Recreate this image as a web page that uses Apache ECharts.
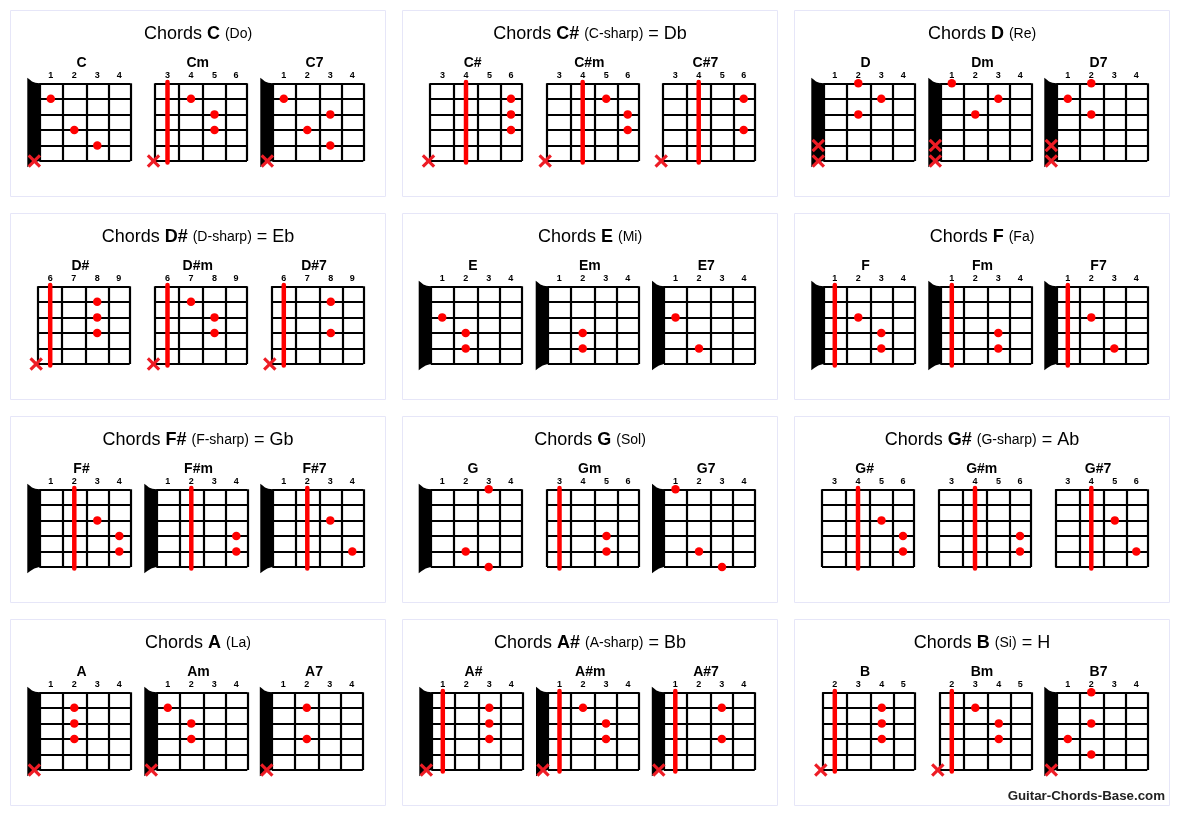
<!DOCTYPE html>
<html><head><meta charset="utf-8">
<style>html,body{margin:0;padding:0;background:#fff}#c{width:1180px;height:816px}</style>
<script src="https://cdn.jsdelivr.net/npm/echarts@6/dist/echarts.min.js"></script>
</head><body><div id="c"></div>
<script>
// ---- content ----
const panelKeys  = ['C','C#','D','D#','E','F','F#','G','G#','A','A#','B'];
const panelNotes = ['(Do)','(C-sharp)','(Re)','(D-sharp)','(Mi)','(Fa)','(F-sharp)','(Sol)','(G-sharp)','(La)','(A-sharp)','(Si)'];
const panelEquals= ['','= Db','','= Eb','','','= Gb','','= Ab','','= Bb','= H'];
const chordNames = ['C','Cm','C7','C#','C#m','C#7','D','Dm','D7','D#','D#m','D#7','E','Em','E7','F','Fm','F7','F#','F#m','F#7','G','Gm','G7','G#','G#m','G#7','A','Am','A7','A#','A#m','A#7','B','Bm','B7'];
// first fret printed above each diagram
const firstFret  = [1,3,1,3,3,3,1,1,1,6,6,6,1,1,1,1,1,1,1,1,1,1,3,1,3,3,3,1,1,1,1,1,1,2,2,1];
// 1 = diagram shows the black nut
const hasNut     = [1,0,1,0,0,0,1,1,1,0,0,0,1,1,1,1,1,1,1,1,1,1,0,1,0,0,0,1,1,1,1,1,1,0,0,1];
// column of the barre, -1 = none
const barreCol   = [-1,0,-1,1,1,1,-1,-1,-1,0,0,0,-1,-1,-1,0,0,0,1,1,1,-1,0,-1,1,1,1,-1,-1,-1,0,0,0,0,0,-1];
// finger dots as [column, string]
const chordDots  = [
  [[0,1],[1,3],[2,4]], [[1,1],[2,2],[2,3]], [[0,1],[2,2],[1,3],[2,4]],
  [[3,1],[3,2],[3,3]], [[2,1],[3,2],[3,3]], [[3,1],[3,3]],
  [[1,0],[2,1],[1,2]], [[0,0],[2,1],[1,2]], [[1,0],[0,1],[1,2]],
  [[2,1],[2,2],[2,3]], [[1,1],[2,2],[2,3]], [[2,1],[2,3]],
  [[0,2],[1,3],[1,4]], [[1,3],[1,4]], [[0,2],[1,4]],
  [[1,2],[2,3],[2,4]], [[2,3],[2,4]], [[1,2],[2,4]],
  [[2,2],[3,3],[3,4]], [[3,3],[3,4]], [[2,2],[3,4]],
  [[2,0],[1,4],[2,5]], [[2,3],[2,4]], [[0,0],[1,4],[2,5]],
  [[2,2],[3,3],[3,4]], [[3,3],[3,4]], [[2,2],[3,4]],
  [[1,1],[1,2],[1,3]], [[0,1],[1,2],[1,3]], [[1,1],[1,3]],
  [[2,1],[2,2],[2,3]], [[1,1],[2,2],[2,3]], [[2,1],[2,3]],
  [[2,1],[2,2],[2,3]], [[1,1],[2,2],[2,3]], [[1,0],[1,2],[0,3],[1,4]]
];
// muted strings
const mutedStrings = [
  [5],[5],[5], [5],[5],[5], [4,5],[4,5],[4,5], [5],[5],[5], [],[],[], [],[],[],
  [],[],[], [],[],[], [],[],[], [5],[5],[5], [5],[5],[5], [5],[5],[5]
];
const watermark = 'Guitar-Chords-Base.com';

// ---- layout ----
const panelLefts = [10.5, 402.5, 794.5];
const panelTops  = [10.5, 213.5, 416.5, 619.5];
const panelW = 375, panelH = 186;
const gridTops = [83.3, 286.3, 489.3, 692.3];
const gridH = 77.7;
const gridLefts = [
  39.3,155,272.3, 430,546.7,662.7, 823.3,940.3,1056.3,
  37.7,155,271.3, 430.7,547.7,664, 823.3,940.3,1056.3,
  39.3,156.3,272.3, 430.7,547,664, 822,939,1055.3,
  39.3,156.3,271.8, 431.3,548,663.8, 822.3,939.3,1056.3
];
const nutLines   = [0,23,47,69,91], nutCentres   = [11.5,35,58,80];
const plainLines = [0,24,48,71,92], plainCentres = [12.5,36,59.5,81];
const nutShape = [[-12,-0.36],[-10.3,-0.28],[-7.3,-0.12],[-4,-0.03],[0,0],[0,5],[-5,5.1],[-9,5.26],[-12,5.4]];
const X_PATH = 'path://M2.6 0 L8 5.4 L13.4 0 L16 2.6 L10.6 8 L16 13.4 L13.4 16 L8 10.6 L2.6 16 L0 13.4 L5.4 8 L0 2.6 Z';
const FONT = '"Liberation Sans", Arial, sans-serif';

const grid=[], xAxis=[], yAxis=[], series=[], title=[], graphic=[];

panelKeys.forEach((k,i)=>{
  const col=i%3, row=Math.floor(i/3), L=panelLefts[col], T=panelTops[row];
  graphic.push({type:'rect',shape:{x:L,y:T,width:panelW,height:panelH},
    style:{fill:'#fff',stroke:'#e6e6f8',lineWidth:1},silent:true,z:-10});
  const eq = panelEquals[i] ? `{r| ${panelEquals[i]}}` : '';
  title.push({text:`{r|Chords }{b|${k}}{r| }{s|${panelNotes[i]}}${eq}`,
    left:L+panelW/2, top:T+23.5, padding:0, textAlign:'center', textVerticalAlign:'middle',
    textStyle:{fontWeight:'normal',rich:{
      r:{fontFamily:FONT,fontSize:18,fontWeight:'normal',color:'#000'},
      b:{fontFamily:FONT,fontSize:18,fontWeight:'bold',color:'#000'},
      s:{fontFamily:FONT,fontSize:14,fontWeight:'normal',color:'#000'}
    }}});
});

chordNames.forEach((name,i)=>{
  const nut=!!hasNut[i], lines=nut?nutLines:plainLines, centres=nut?nutCentres:plainCentres;
  const left=gridLefts[i], top=gridTops[Math.floor(i/9)], w=lines[4];
  grid.push({left,top,width:w,height:gridH,containLabel:false});
  title.push({text:name,left:left+w/2-3.3,top:top-20.3,padding:0,textAlign:'center',textVerticalAlign:'middle',
    textStyle:{fontFamily:FONT,fontSize:14,fontWeight:'bold',color:'#000'}});
  const f0=firstFret[i];
  xAxis.push({type:'value',gridIndex:i,position:'top',min:0,max:w,
    axisLine:{show:false},
    axisTick:{show:false,customValues:lines},
    splitLine:{show:true,lineStyle:{color:'#000',width:2.2}},
    axisLabel:{show:true,customValues:centres,margin:3,fontFamily:FONT,fontSize:9,fontWeight:'bold',color:'#000',
      formatter:v=>String(f0+centres.indexOf(v))}});
  yAxis.push({type:'value',gridIndex:i,inverse:true,min:0,max:5,interval:1,
    axisLine:{show:false},axisTick:{show:false},axisLabel:{show:false},
    splitLine:{show:true,lineStyle:{color:'#000',width:2.2}}});
  if(nut) series.push({type:'custom',xAxisIndex:i,yAxisIndex:i,silent:true,z:3,clip:false,data:[[0,0]],
    renderItem:(p,api)=>({type:'polygon',shape:{points:nutShape.map(q=>api.coord(q))},style:{fill:'#000'}})});
  if(barreCol[i]>=0) series.push({type:'line',xAxisIndex:i,yAxisIndex:i,silent:true,z:4,clip:false,showSymbol:false,
    data:[[centres[barreCol[i]],-0.08],[centres[barreCol[i]],5.1]],
    lineStyle:{color:'#f00',width:4.5,cap:'round'}});
  series.push({type:'scatter',xAxisIndex:i,yAxisIndex:i,silent:true,z:5,clip:false,symbolSize:8.5,
    itemStyle:{color:'#f00',opacity:1},
    data:chordDots[i].map(d=>[centres[d[0]],d[1]])});
  if(mutedStrings[i].length) series.push({type:'scatter',xAxisIndex:i,yAxisIndex:i,silent:true,z:6,clip:false,
    symbol:X_PATH,symbolSize:13.5,itemStyle:{color:'#ee1c25',opacity:1},
    data:mutedStrings[i].map(s=>[nut?-5:-1.5,s])});
});

title.push({text:watermark,left:1165,top:796.3,padding:0,textAlign:'right',textVerticalAlign:'middle',
  textStyle:{fontFamily:FONT,fontSize:13.3,fontWeight:'bold',color:'#222'}});

const chart=echarts.init(document.getElementById('c'),null,{renderer:'canvas'});
chart.setOption({animation:false,backgroundColor:'#fff',tooltip:{show:false},title,grid,xAxis,yAxis,series,graphic:{elements:graphic}});
</script></body></html>
